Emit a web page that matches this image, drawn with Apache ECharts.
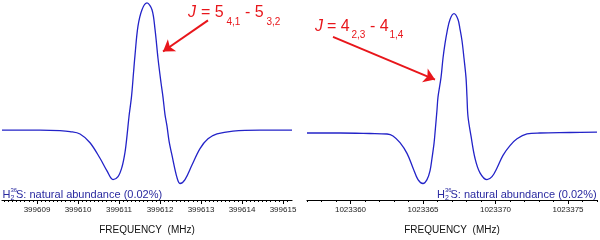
<!DOCTYPE html>
<html>
<head>
<meta charset="utf-8">
<script src="https://cdn.jsdelivr.net/npm/echarts@6/dist/echarts.min.js"></script>
<style>html,body{margin:0;padding:0;background:#fff}#c{width:600px;height:240px}</style>
</head>
<body>
<div id="c"></div>
<script>
// ---- Left panel: J = 5(4,1) - 5(3,2) ----
const leftFreq = [399608.146, 399609.073, 399609.561, 399609.805, 399610.049, 399610.293, 399610.537, 399610.707, 399610.854, 399610.976, 399611.073, 399611.146, 399611.195, 399611.244, 399611.305, 399611.354, 399611.390, 399611.463, 399611.561, 399611.683, 399611.805, 399611.878, 399611.951, 399612.024, 399612.073, 399612.122, 399612.171, 399612.220, 399612.293, 399612.415, 399612.488, 399612.610, 399612.780, 399612.976, 399613.171, 399613.390, 399613.780, 399614.439, 399615.220];
const leftSignal = [0, 0, -0.5, -1.5, -4, -13, -29, -42, -51, -48, -38, -23, -6, 14, 34.5, 59, 77, 107, 124, 131, 124, 104, 74, 49, 34, 16, 4, -11, -26, -49, -55, -51, -36, -19, -9, -4, -1, 0, 0];
const leftMajorTicks = [399609, 399610, 399611, 399612, 399613, 399614, 399615];

// ---- Right panel: J = 4(2,3) - 4(1,4) ----
const rightFreq = [1023357.000, 1023359.276, 1023361.345, 1023362.517, 1023362.931, 1023363.414, 1023363.897, 1023364.310, 1023364.655, 1023365.000, 1023365.276, 1023365.483, 1023365.621, 1023365.759, 1023365.828, 1023365.966, 1023366.034, 1023366.241, 1023366.379, 1023366.517, 1023366.655, 1023366.862, 1023367.138, 1023367.414, 1023367.552, 1023367.690, 1023367.828, 1023367.966, 1023368.034, 1023368.103, 1023368.310, 1023368.586, 1023368.931, 1023369.414, 1023369.759, 1023370.103, 1023370.517, 1023371.000, 1023371.483, 1023372.172, 1023373.069, 1023375.138, 1023377.000];
const rightSignal = [0, 0, -0.5, -1, -3, -10, -21, -36, -48, -52, -48, -39, -26, -11, 0, 24, 37, 57, 77, 92, 104, 117, 123, 117, 107, 95, 77, 57, 37, 17, -3, -26, -41, -48, -45, -36, -23, -13, -6, -1, 0, 0.5, 1];
const rightMajorTicks = [1023360, 1023365, 1023370, 1023375];
const rightMinorTicks = [1023357, 1023358, 1023359, 1023360, 1023361, 1023362, 1023363, 1023364, 1023365, 1023366, 1023367, 1023368, 1023369, 1023370, 1023371, 1023372, 1023373, 1023374, 1023375, 1023376, 1023377];

// annotation texts
const leftLabelParts = ['J', '= 5', '4,1', '- 5', '3,2'];
const rightLabelParts = ['J', '= 4', '2,3', '- 4', '1,4'];
const abundanceText = 'S: natural abundance (0.02%)';
const axisTitle = 'FREQUENCY  (MHz)';

// arrows (data coords: [freq, signal])
const leftArrow = [[399613.171, 113], [399612.073, 81]];
const rightArrow = [[1023358.793, 99], [1023365.828, 55]];

const leftMinorTicks = [];
for (let i = 1; i <= 70; i++) leftMinorTicks.push(+(399608.1 + i * 0.1).toFixed(1));

const FONT = "'Liberation Sans', Arial, sans-serif";
const RED = '#e8161b';
const BLUE = '#2323c8';
const NAVY = '#2a2aa0';

const chart = echarts.init(document.getElementById('c'), null, {renderer: 'canvas'});

function pairs(xs, ys) { return xs.map((x, i) => [x, ys[i]]); }

function mainX(gridIndex, min, max, majors) {
  return {
    type: 'value', gridIndex, min, max, position: 'bottom',
    axisLine: {show: true, onZero: false, lineStyle: {color: '#000', width: 1.2}},
    axisTick: {show: true, customValues: majors, length: 4, lineStyle: {color: '#000', width: 1}},
    axisLabel: {show: true, customValues: majors, margin: 6, fontSize: 8, color: '#222', fontFamily: FONT,
                formatter: v => String(v)},
    splitLine: {show: false},
    name: axisTitle, nameLocation: 'middle', nameGap: 25,
    nameTextStyle: {fontSize: 10, color: '#111', fontFamily: FONT}
  };
}
function minorX(gridIndex, min, max, minors) {
  return {
    type: 'value', gridIndex, min, max, position: 'bottom',
    axisLine: {show: false, onZero: false},
    axisTick: {show: true, customValues: minors, length: 2, lineStyle: {color: '#000', width: 1}},
    axisLabel: {show: false},
    splitLine: {show: false}
  };
}

function txt(text, x, y, size, color, italic) {
  return {type: 'text', x, y, silent: true,
    style: {text, fill: color, fontSize: size, fontFamily: FONT, fontStyle: italic ? 'italic' : 'normal',
            align: 'left', verticalAlign: 'middle'}};
}

const graphics = [
  // left annotation
  txt(leftLabelParts[0], 188, 13, 16, RED, true),
  txt(leftLabelParts[1], 201, 13, 16, RED),
  txt(leftLabelParts[2], 226.5, 22, 10, RED),
  txt(leftLabelParts[3], 245, 13, 16, RED),
  txt(leftLabelParts[4], 266.5, 22, 10, RED),
  // right annotation
  txt(rightLabelParts[0], 315, 26.5, 16, RED, true),
  txt(rightLabelParts[1], 327, 26.5, 16, RED),
  txt(rightLabelParts[2], 351.5, 35, 10, RED),
  txt(rightLabelParts[3], 370, 26.5, 16, RED),
  txt(rightLabelParts[4], 389.5, 35, 10, RED),
  // abundance labels
  txt('H', 2.5, 195, 11, NAVY),
  txt('2', 10.5, 198.5, 7, NAVY),
  txt('36', 10.5, 190.5, 6, NAVY),
  txt(abundanceText, 16, 195, 11, NAVY),
  txt('H', 437, 195, 11, NAVY),
  txt('2', 445, 198.5, 7, NAVY),
  txt('36', 445, 190.5, 6, NAVY),
  txt(abundanceText, 450.5, 195, 11, NAVY)
];

function arrowMark(a) {
  return {
    silent: true, animation: false, symbol: ['none', 'arrow'], symbolSize: 11,
    label: {show: false},
    lineStyle: {color: RED, width: 2, type: 'solid'},
    itemStyle: {color: RED},
    data: [[{coord: a[0]}, {coord: a[1]}]]
  };
}

chart.setOption({
  animation: false,
  backgroundColor: '#fff',
  grid: [
    {left: 2, top: 0, width: 290, height: 206},
    {left: 307, top: 0, width: 290, height: 206}
  ],
  xAxis: [
    mainX(0, 399608.146, 399615.22, leftMajorTicks),
    minorX(0, 399608.146, 399615.22, leftMinorTicks),
    mainX(1, 1023357, 1023377, rightMajorTicks),
    minorX(1, 1023357, 1023377, rightMinorTicks)
  ],
  yAxis: [
    {type: 'value', gridIndex: 0, min: -72, max: 134, show: false},
    {type: 'value', gridIndex: 1, min: -69, max: 137, show: false}
  ],
  series: [
    {type: 'line', xAxisIndex: 0, yAxisIndex: 0, data: pairs(leftFreq, leftSignal), smooth: 0.35,
     showSymbol: false, lineStyle: {color: BLUE, width: 1.3}, markLine: arrowMark(leftArrow)},
    {type: 'line', xAxisIndex: 2, yAxisIndex: 1, data: pairs(rightFreq, rightSignal), smooth: 0.35,
     showSymbol: false, lineStyle: {color: BLUE, width: 1.3}, markLine: arrowMark(rightArrow)}
  ],
  graphic: graphics
});
</script>
</body>
</html>
